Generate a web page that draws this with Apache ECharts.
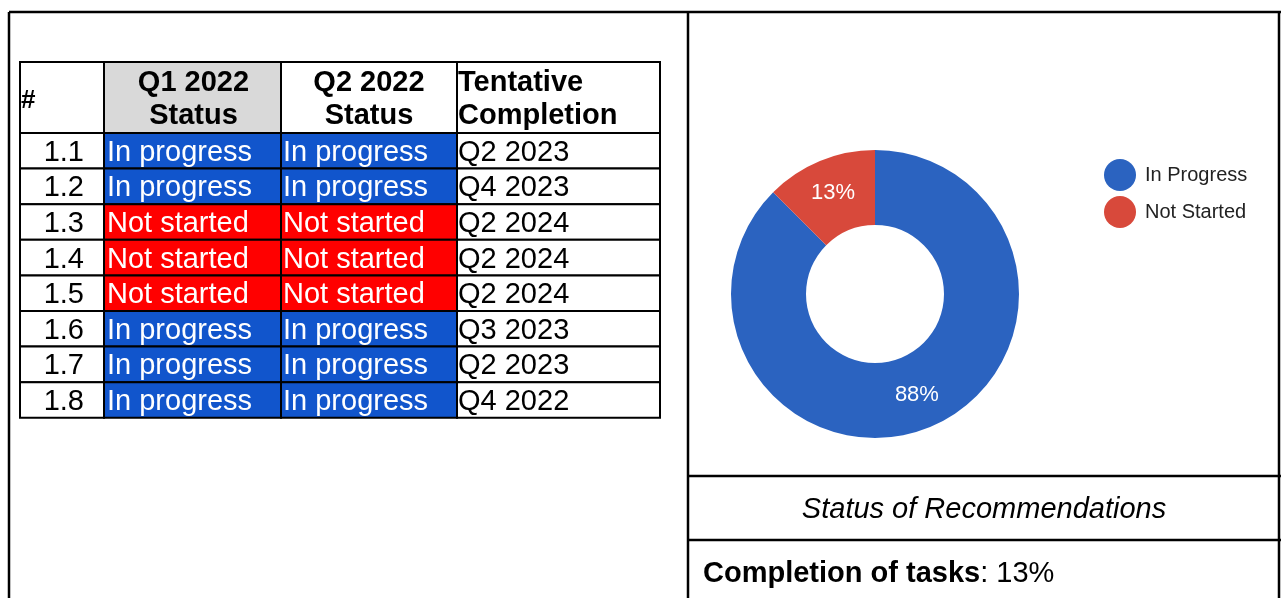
<!DOCTYPE html>
<html>
<head>
<meta charset="utf-8">
<style>
  html, body { margin: 0; padding: 0; background: #fff; }
  #main { width: 1281px; height: 598px; }
</style>
</head>
<body>
<div id="main"></div>
<script src="https://cdn.jsdelivr.net/npm/echarts@6/dist/echarts.min.js"></script>
<script type="text/javascript">
    // table data
    var ids = ['1.1', '1.2', '1.3', '1.4', '1.5', '1.6', '1.7', '1.8'];
    var q1Status = ['In progress', 'In progress', 'Not started', 'Not started', 'Not started', 'In progress', 'In progress', 'In progress'];
    var q2Status = ['In progress', 'In progress', 'Not started', 'Not started', 'Not started', 'In progress', 'In progress', 'In progress'];
    var completion = ['Q2 2023', 'Q4 2023', 'Q2 2024', 'Q2 2024', 'Q2 2024', 'Q3 2023', 'Q2 2023', 'Q4 2022'];
    var headers = ['#', 'Q1 2022\nStatus', 'Q2 2022\nStatus', 'Tentative\nCompletion'];

    // donut data
    var pieNames = ['In Progress', 'Not Started'];
    var pieValues = [7, 1];
    var pieColors = ['#2b63c0', '#d8493b'];
    var chartTitle = 'Status of Recommendations';
    var tasksDone = '13%';

    var FONT = '"Liberation Sans", Arial, sans-serif';
    var colX = [20, 104, 281, 457, 660];
    var tableTop = 62, headH = 71, rowH = 35.6;

    function statusColor(s) {
        return s === 'In progress' ? '#1155cc' : '#ff0000';
    }

    function cell(x0, x1, y0, h, fill) {
        return {
            type: 'rect',
            shape: { x: x0, y: y0, width: x1 - x0, height: h },
            style: { fill: fill, stroke: '#000', lineWidth: 2 },
            z: 1
        };
    }

    function txt(text, x, y, opts) {
        return {
            type: 'text',
            z: 5,
            style: {
                text: text, x: x, y: y,
                font: (opts.weight || 'normal') + ' ' + opts.size + 'px ' + FONT,
                fill: opts.color || '#000',
                align: opts.align || 'left',
                verticalAlign: 'middle',
                lineHeight: opts.lh || opts.size
            }
        };
    }

    var graphics = [];

    // header row
    var headFill = ['#fff', '#d9d9d9', '#fff', '#fff'];
    for (var c = 0; c < 4; c++) {
        graphics.push(cell(colX[c], colX[c + 1], tableTop, headH, headFill[c]));
    }
    var hy = tableTop + headH / 2 + 2;
    graphics.push(txt(headers[0], 21, hy + 1, { size: 26, weight: 'bold' }));
    graphics.push(txt(headers[1], (colX[1] + colX[2]) / 2 + 1, hy, { size: 29, weight: 'bold', align: 'center', lh: 33 }));
    graphics.push(txt(headers[2], (colX[2] + colX[3]) / 2, hy, { size: 29, weight: 'bold', align: 'center', lh: 33 }));
    graphics.push(txt(headers[3], colX[3] + 1, hy, { size: 29, weight: 'bold', lh: 33 }));

    // body rows
    for (var r = 0; r < ids.length; r++) {
        var y0 = tableTop + headH + r * rowH;
        var ym = y0 + rowH / 2 + 2;
        graphics.push(cell(colX[0], colX[1], y0, rowH, '#fff'));
        graphics.push(cell(colX[1], colX[2], y0, rowH, statusColor(q1Status[r])));
        graphics.push(cell(colX[2], colX[3], y0, rowH, statusColor(q2Status[r])));
        graphics.push(cell(colX[3], colX[4], y0, rowH, '#fff'));
        graphics.push(txt(ids[r], colX[1] - 20, ym, { size: 29, align: 'right' }));
        graphics.push(txt(q1Status[r], colX[1] + 3, ym, { size: 29, color: '#fff' }));
        graphics.push(txt(q2Status[r], colX[2] + 2, ym, { size: 29, color: '#fff' }));
        graphics.push(txt(completion[r], colX[3] + 1, ym, { size: 29 }));
    }

    // frame lines
    var lines = [
        [9, 12, 1281, 12],
        [9, 12, 9, 598],
        [688, 12, 688, 598],
        [1279, 12, 1279, 598],
        [688, 476, 1281, 476],
        [688, 540, 1281, 540]
    ];
    lines.forEach(function (l) {
        graphics.push({
            type: 'line',
            shape: { x1: l[0], y1: l[1], x2: l[2], y2: l[3] },
            style: { stroke: '#000', lineWidth: 2.5 },
            z: 6
        });
    });

    // captions
    graphics.push({
        type: 'text', z: 5,
        style: {
            text: chartTitle, x: 984, y: 510,
            font: 'italic 29px ' + FONT, fill: '#000',
            align: 'center', verticalAlign: 'middle'
        }
    });
    graphics.push({
        type: 'text', z: 5,
        style: {
            text: '{b|Completion of tasks}: ' + tasksDone, x: 703, y: 574,
            font: '29px ' + FONT, fill: '#000',
            verticalAlign: 'middle',
            rich: { b: { font: 'bold 29px ' + FONT, fill: '#000' } }
        }
    });

    var total = pieValues.reduce(function (a, b) { return a + b; }, 0);
    var pieData = pieNames.map(function (n, i) {
        return { name: n, value: pieValues[i], itemStyle: { color: pieColors[i] } };
    });

    var chart = echarts.init(document.getElementById('main'));
    chart.setOption({
        animation: false,
        backgroundColor: '#fff',
        legend: {
            orient: 'vertical',
            left: 1099,
            top: 154,
            icon: 'circle',
            itemWidth: 32,
            itemHeight: 32,
            itemGap: 5,
            data: pieNames,
            textStyle: { fontFamily: FONT, fontSize: 20, color: '#222', padding: [0, 0, 0, 4] }
        },
        series: [{
            type: 'pie',
            center: [875, 294],
            radius: [69, 144],
            startAngle: 90,
            clockwise: true,
            data: pieData,
            label: {
                position: 'inside',
                color: '#fff',
                fontFamily: FONT,
                fontSize: 22,
                formatter: function (p) {
                    return Math.round(p.value / total * 100) + '%';
                }
            },
            labelLine: { show: false },
            emphasis: { disabled: true }
        }],
        graphic: graphics
    });
</script>
</body>
</html>
